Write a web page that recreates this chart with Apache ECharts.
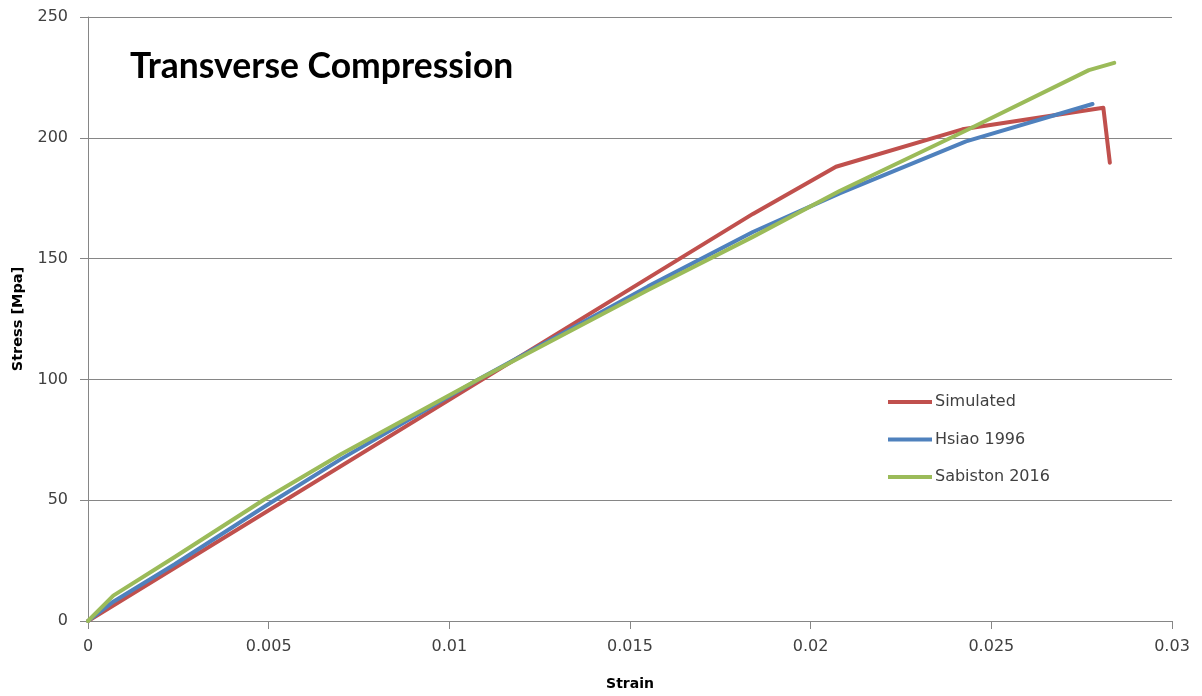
<!DOCTYPE html>
<html>
<head>
<meta charset="utf-8">
<script src="https://cdn.jsdelivr.net/npm/echarts@6/dist/echarts.min.js"></script>
<style>
html,body{margin:0;padding:0;background:#fff;}
#chart{width:1202px;height:696px;}
</style>
</head>
<body>
<div id="chart"></div>
<script>
const seriesNames = ['Simulated', 'Hsiao 1996', 'Sabiston 2016'];
const simStrain = [0, 0.0184, 0.0207, 0.0242, 0.0281, 0.02828];
const simStress = [0, 168.5, 188, 203.5, 212.4, 189.7];
const hsiaoStrain = [0, 0.0007, 0.0024, 0.0049, 0.007, 0.0108, 0.0155, 0.0184, 0.0208, 0.0243, 0.0278];
const hsiaoStress = [0, 8, 23.5, 47.5, 67, 100, 138.5, 161, 177, 198.5, 214];
const sabStrain = [0, 0.0007, 0.0024, 0.0049, 0.007, 0.0108, 0.0155, 0.0184, 0.0208, 0.0243, 0.0277, 0.0284];
const sabStress = [0, 10.5, 26.5, 50.5, 69, 100, 137, 159, 178, 203, 228, 231];
const xTicks = ['0', '0.005', '0.01', '0.015', '0.02', '0.025', '0.03'];
const yTicks = ['0', '50', '100', '150', '200', '250'];

const pair = (xs, ys) => xs.map((x, i) => [x, ys[i]]);
const colors = ['#C0504D', '#4F81BD', '#9BBB59'];
const axisGrey = '#868686';
const labelCol = '#404040';

const chart = echarts.init(document.getElementById('chart'), null, {renderer: 'canvas'});
chart.setOption({
  animation: false,
  backgroundColor: '#ffffff',
  title: {
    text: 'Transverse Compression',
    left: 125, top: 44,
    textStyle: {fontFamily: 'Lato', fontWeight: 'bold', fontSize: 35.5, color: '#000'}
  },
  legend: {
    orient: 'vertical',
    left: 888, top: 394, padding: 0,
    itemWidth: 44, itemHeight: 14, itemGap: 21.5,
    data: seriesNames.map((n, i) => ({name: n, icon: 'path://M0,0 L44,0 L44,4 L0,4 Z', itemStyle: {color: colors[i]}})),
    textStyle: {fontFamily: 'DejaVu Sans', fontSize: 16, color: labelCol, lineHeight: 16, padding: [0, 0, 0, -2]}
  },
  grid: {left: 88, right: 30, top: 17, bottom: 72, containLabel: false},
  xAxis: {
    type: 'value', min: 0, max: 0.03, interval: 0.005,
    name: 'Strain', nameLocation: 'middle', nameGap: 56,
    nameTextStyle: {fontFamily: 'DejaVu Sans', fontWeight: 'bold', fontSize: 14, color: '#000'},
    axisLine: {show: true, lineStyle: {color: axisGrey, width: 1}},
    axisTick: {show: true, length: 8, inside: false, lineStyle: {color: axisGrey, width: 1}},
    axisLabel: {
      margin: 18, fontFamily: 'DejaVu Sans', fontSize: 16, color: labelCol,
      formatter: v => xTicks[Math.round(v / 0.005)]
    },
    splitLine: {show: false}
  },
  yAxis: {
    type: 'value', min: 0, max: 250, interval: 50,
    name: 'Stress [Mpa]', nameLocation: 'middle', nameGap: 62, nameRotate: 90,
    nameTextStyle: {fontFamily: 'DejaVu Sans', fontWeight: 'bold', fontSize: 14.5, color: '#000'},
    axisLine: {show: true, lineStyle: {color: axisGrey, width: 1}},
    axisTick: {show: true, length: 8, inside: false, lineStyle: {color: axisGrey, width: 1}},
    axisLabel: {
      margin: 20, fontFamily: 'DejaVu Sans', fontSize: 16, color: labelCol,
      formatter: v => yTicks[Math.round(v / 50)]
    },
    splitLine: {show: true, lineStyle: {color: axisGrey, width: 1}}
  },
  series: [
    {name: seriesNames[0], type: 'line', data: pair(simStrain, simStress)},
    {name: seriesNames[1], type: 'line', data: pair(hsiaoStrain, hsiaoStress)},
    {name: seriesNames[2], type: 'line', data: pair(sabStrain, sabStress)}
  ].map((s, i) => Object.assign(s, {
    showSymbol: false, symbol: 'none', smooth: false,
    lineStyle: {color: colors[i], width: 4, cap: 'round', join: 'round'},
    itemStyle: {color: colors[i]}
  }))
});
</script>
</body>
</html>
